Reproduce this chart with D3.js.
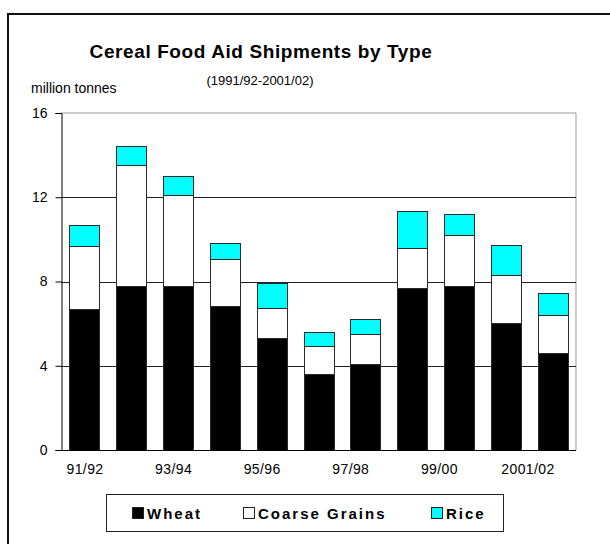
<!DOCTYPE html>
<html>
<head>
<meta charset="utf-8">
<script src="https://cdn.jsdelivr.net/npm/d3@7/dist/d3.min.js"></script>
<style>
  html, body { margin: 0; padding: 0; background: #fff; }
  svg { display: block; font-family: "Liberation Sans", Arial, sans-serif; }
</style>
</head>
<body>
<svg id="chart" width="610" height="544"></svg>
<script>
// Marketing years (July/June)
const seasons = ["91/92", "92/93", "93/94", "94/95", "95/96", "96/97", "97/98", "98/99", "99/00", "2000/01", "2001/02"];
// Shipments, million tonnes
const wheat  = [6.7, 7.8, 7.8, 6.85, 5.3, 3.6, 4.1, 7.7, 7.8, 6.05, 4.6];
const coarse = [3.0, 5.75, 4.3, 2.2, 1.45, 1.35, 1.4, 1.9, 2.4, 2.25, 1.8];
const rice   = [1.0, 0.9, 0.9, 0.8, 1.2, 0.65, 0.7, 1.75, 1.0, 1.45, 1.05];
// Axis labels
const yTicks = [0, 4, 8, 12, 16];
const xTickLabels = ["91/92", "93/94", "95/96", "97/98", "99/00", "2001/02"];

const seriesKeys = ["Wheat", "Coarse Grains", "Rice"];
const seriesColors = ["#000000", "#ffffff", "#00ffff"];

const rows = seasons.map((s, i) => ({
  season: s, "Wheat": wheat[i], "Coarse Grains": coarse[i], "Rice": rice[i]
}));

const svg = d3.select("#chart");
const plot = { left: 61, right: 576, top: 113, bottom: 450 };

// Outer frame (runs off the right and bottom edges)
svg.append("rect")
  .attr("x", 8).attr("y", 14).attr("width", 700).attr("height", 700)
  .attr("fill", "none").attr("stroke", "#111").attr("stroke-width", 2);

const x = d3.scaleBand().domain(seasons).range([plot.left, plot.right]).paddingInner(0.36).paddingOuter(0.18);
const y = d3.scaleLinear().domain([0, 16]).range([plot.bottom, plot.top]);
// Category labels sit on their own scale
const xLabel = d3.scalePoint().domain(xTickLabels).range([85, 528]);

// Plot border (top and right)
svg.append("path")
  .attr("d", `M${plot.left},${plot.top}H${plot.right}V${plot.bottom}`)
  .attr("fill", "none").attr("stroke", "#999").attr("stroke-width", 1);

// Horizontal gridlines
svg.append("g").selectAll("line")
  .data(yTicks.filter(t => t > 0 && t < 16))
  .join("line")
  .attr("x1", plot.left).attr("x2", plot.right)
  .attr("y1", d => Math.round(y(d)) + 0.5).attr("y2", d => Math.round(y(d)) + 0.5)
  .attr("stroke", "#222").attr("stroke-width", 1);

// Stacked bars
const stack = d3.stack().keys(seriesKeys)(rows);
svg.append("g").selectAll("g")
  .data(stack)
  .join("g")
  .attr("fill", (d, i) => seriesColors[i])
  .selectAll("rect")
  .data(d => d)
  .join("rect")
  .attr("x", d => Math.round(x(d.data.season)) + 0.5)
  .attr("y", d => Math.round(y(d[1])) + 0.5)
  .attr("width", Math.round(x.bandwidth()))
  .attr("height", d => Math.round(y(d[0])) - Math.round(y(d[1])))
  .attr("stroke", "#2a2a2a").attr("stroke-width", 1);

// Y axis
const yAxis = svg.append("g")
  .attr("transform", `translate(${plot.left + 0.5},0)`)
  .call(d3.axisLeft(y).tickValues(yTicks).tickSize(6).tickPadding(8).tickFormat(d3.format("d")));
yAxis.select(".domain").attr("stroke", "#000");
yAxis.selectAll(".tick line").attr("stroke", "#000");
yAxis.selectAll("text").attr("font-size", 14).attr("fill", "#000")
  .attr("font-family", "'Liberation Sans', Arial, sans-serif");

// X axis baseline
svg.append("line")
  .attr("x1", plot.left).attr("x2", plot.right)
  .attr("y1", plot.bottom + 0.5).attr("y2", plot.bottom + 0.5)
  .attr("stroke", "#000");

// Category labels
svg.append("g").selectAll("text")
  .data(xTickLabels)
  .join("text")
  .attr("x", d => xLabel(d))
  .attr("y", 474)
  .attr("text-anchor", "middle")
  .attr("font-size", 14)
  .attr("letter-spacing", 0.4)
  .text(d => d);

// Titles
svg.append("text")
  .attr("x", 261).attr("y", 58)
  .attr("text-anchor", "middle")
  .attr("font-size", 19).attr("font-weight", "bold").attr("letter-spacing", 0.6)
  .text("Cereal Food Aid Shipments by Type");
svg.append("text")
  .attr("x", 260).attr("y", 85)
  .attr("text-anchor", "middle")
  .attr("font-size", 13)
  .text("(1991/92-2001/02)");
svg.append("text")
  .attr("x", 31).attr("y", 93)
  .attr("font-size", 14)
  .text("million tonnes");

// Legend
const legend = svg.append("g");
legend.append("rect")
  .attr("x", 106.5).attr("y", 494.5).attr("width", 397).attr("height", 37)
  .attr("fill", "#fff").attr("stroke", "#222");
const legendX = [132, 243, 431];
const items = legend.selectAll("g.item")
  .data(seriesKeys)
  .join("g").attr("class", "item")
  .attr("transform", (d, i) => `translate(${legendX[i]},507)`);
items.append("rect")
  .attr("x", 0.5).attr("y", 0.5).attr("width", 11).attr("height", 11)
  .attr("fill", (d, i) => seriesColors[i]).attr("stroke", "#222");
items.append("text")
  .attr("x", 15).attr("y", 12)
  .attr("font-size", 15).attr("font-weight", "bold").attr("letter-spacing", 2)
  .text(d => d);
</script>
</body>
</html>
